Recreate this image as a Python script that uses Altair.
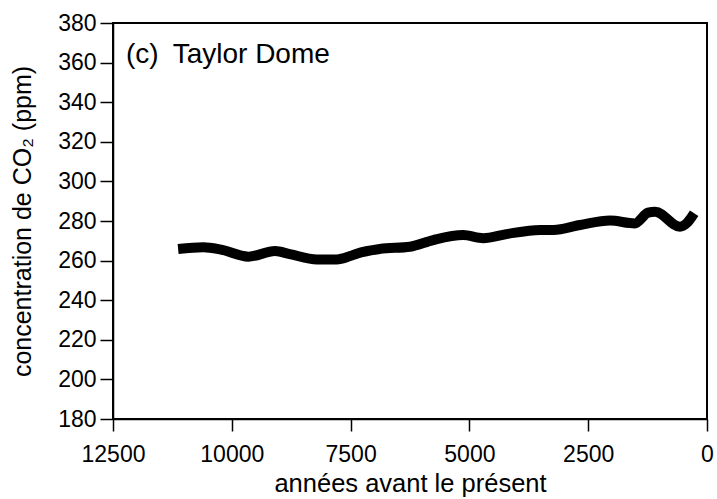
import altair as alt
import pandas as pd

years = [11130, 10600, 10250, 9650, 9090, 8780, 8210, 7790, 7510, 7370, 6880, 6250,
         5760, 5130, 4710, 4220, 3510, 3230, 2670, 2040, 1520, 1240, 1090, 570, 430, 270]
co2 = [265.9, 266.7, 265.7, 262.0, 264.8, 263.3, 260.6, 260.6, 262.3, 263.5, 265.9, 267.0,
       270.4, 272.9, 271.3, 273.4, 275.5, 275.5, 278.0, 280.2, 278.8, 284.2, 284.7, 277.1, 278.8, 283.9]

x_ticks = [12500, 10000, 7500, 5000, 2500, 0]
y_ticks = [180, 200, 220, 240, 260, 280, 300, 320, 340, 360, 380]

label_text = ["(c)\u2002Taylor Dome"]
label_year = [12226]
label_co2 = [359.8]

df = pd.DataFrame({"year": years, "co2": co2})
lab = pd.DataFrame({"year": label_year, "co2": label_co2, "t": label_text})

FONT = "Liberation Sans"

xs = alt.Scale(domain=[0, 12500], reverse=True, nice=False)
ys = alt.Scale(domain=[180, 380], nice=False, zero=False)

xax = alt.Axis(values=x_ticks, title="années avant le présent", grid=False,
               domainColor="black", domainWidth=1.5, tickColor="black", tickWidth=1.5,
               tickSize=12, labelFont=FONT, labelFontSize=23, labelColor="black",
               labelPadding=12, titleFont=FONT, titleFontSize=25.5, titleFontWeight="normal",
               titleColor="black", titlePadding=5, format="d", labelFlush=False,
               labelOverlap=False)
yax = alt.Axis(values=y_ticks, title="concentration de CO\u2082 (ppm)", grid=False,
               domainColor="black", domainWidth=1.5, tickColor="black", tickWidth=1.5,
               tickSize=13, labelFont=FONT, labelFontSize=23, labelColor="black",
               labelPadding=4, titleFont=FONT, titleFontSize=25, titleFontWeight="normal",
               titleColor="black", titlePadding=22, labelFlush=False, labelOverlap=False)

line = alt.Chart(df).mark_line(color="black", strokeWidth=10, strokeCap="butt",
                               strokeJoin="round", interpolate="monotone").encode(
    x=alt.X("year:Q", scale=xs, axis=xax),
    y=alt.Y("co2:Q", scale=ys, axis=yax),
)

text = alt.Chart(lab).mark_text(font=FONT, fontSize=28, align="left",
                                baseline="alphabetic", color="black").encode(
    x=alt.X("year:Q", scale=xs, axis=xax),
    y=alt.Y("co2:Q", scale=ys, axis=yax),
    text="t:N",
)

chart = alt.layer(line, text).properties(
    width=594, height=396,
    padding={"left": 113, "top": 23, "right": 10, "bottom": 80},
    autosize=alt.AutoSizeParams(type="none"),
    background="white",
).configure_view(stroke="black", strokeWidth=2)

chart.save("out.html", embed_options={"renderer": "svg", "actions": False})
